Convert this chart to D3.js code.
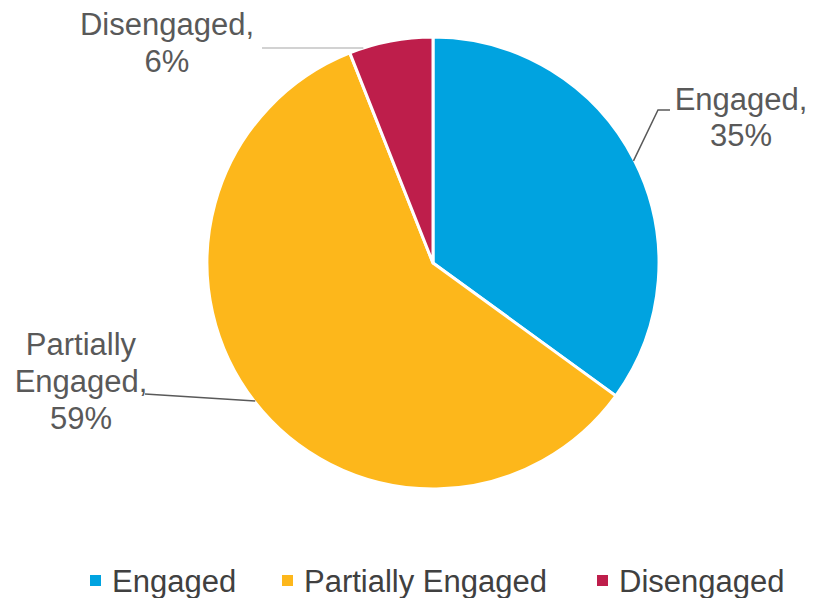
<!DOCTYPE html>
<html>
<head>
<meta charset="utf-8">
<script src="https://cdn.jsdelivr.net/npm/d3@7"></script>
<style>
  html, body { margin: 0; padding: 0; background: #fff; }
  svg { display: block; font-family: "Liberation Sans", Arial, sans-serif; }
</style>
</head>
<body>
<svg id="chart" width="816" height="598"></svg>
<script>
// Engagement share by category
const categories = ["Engaged", "Partially Engaged", "Disengaged"];
const values = [35, 59, 6];
const colors = ["#00A3E0", "#FDB71B", "#BE1E4B"];
// Data-label text lines per slice
const labelLines = [["Engaged,", "35%"], ["Partially", "Engaged,", "59%"], ["Disengaged,", "6%"]];

const svg = d3.select("#chart");
const cx = 433, cy = 263, radius = 226;

const pie = d3.pie().sort(null).value(d => d.value).startAngle(0).endAngle(2 * Math.PI);
const arc = d3.arc().innerRadius(0).outerRadius(radius);
const data = categories.map((c, i) => ({ name: c, value: values[i], color: colors[i] }));
const arcs = pie(data);

const g = svg.append("g").attr("transform", `translate(${cx},${cy})`);
g.selectAll("path.slice")
  .data(arcs)
  .join("path")
  .attr("class", "slice")
  .attr("d", arc)
  .attr("fill", d => d.data.color)
  .attr("stroke", "#fff")
  .attr("stroke-width", 3)
  .attr("stroke-linejoin", "round");

// Point on the slice edge at a given fraction of its angular span
function edgePoint(a, frac, r) {
  const ang = a.startAngle + (a.endAngle - a.startAngle) * frac;
  return [cx + r * Math.sin(ang), cy - r * Math.cos(ang)];
}
// Left edge of the circle at a given page y
function circleLeftX(y) {
  const dy = y - cy;
  return cx - Math.sqrt(radius * radius - dy * dy);
}

// Label layouts: anchor of text block, leader path in page coordinates
const labelLayout = [
  { x: 741, y: 110, lh: 36, leader: (a) => { const p = edgePoint(a, 0.5, radius - 1); return [[670, 110], [658, 110], p]; }, stroke: "#595959", sw: 1.5 },
  { x: 81, y: 355, lh: 37, leader: (a) => { const p = edgePoint(a, 0.5, radius - 1); return [[145, 394], p]; }, stroke: "#595959", sw: 1.5 },
  { x: 167, y: 35, lh: 37, leader: () => [[262, 48], [circleLeftX(48), 48]], stroke: "#A6A6A6", sw: 1.2 }
];

arcs.forEach((a, i) => {
  const L = labelLayout[i];
  svg.append("path")
    .attr("d", d3.line()(L.leader(a)))
    .attr("fill", "none")
    .attr("stroke", L.stroke)
    .attr("stroke-width", L.sw);
  const t = svg.append("text")
    .attr("text-anchor", "middle")
    .attr("fill", "#595959")
    .attr("font-size", 31);
  labelLines[i].forEach((line, j) => {
    t.append("tspan").attr("x", L.x).attr("y", L.y + j * L.lh).text(line);
  });
});

// Legend
const legendX = [90, 282, 597];
const legend = svg.append("g");
data.forEach((d, i) => {
  legend.append("rect")
    .attr("x", legendX[i]).attr("y", 575)
    .attr("width", 11).attr("height", 11)
    .attr("fill", d.color);
  legend.append("text")
    .attr("x", legendX[i] + 22).attr("y", 592)
    .attr("fill", "#404040")
    .attr("font-size", 31)
    .text(d.name);
});
</script>
</body>
</html>
